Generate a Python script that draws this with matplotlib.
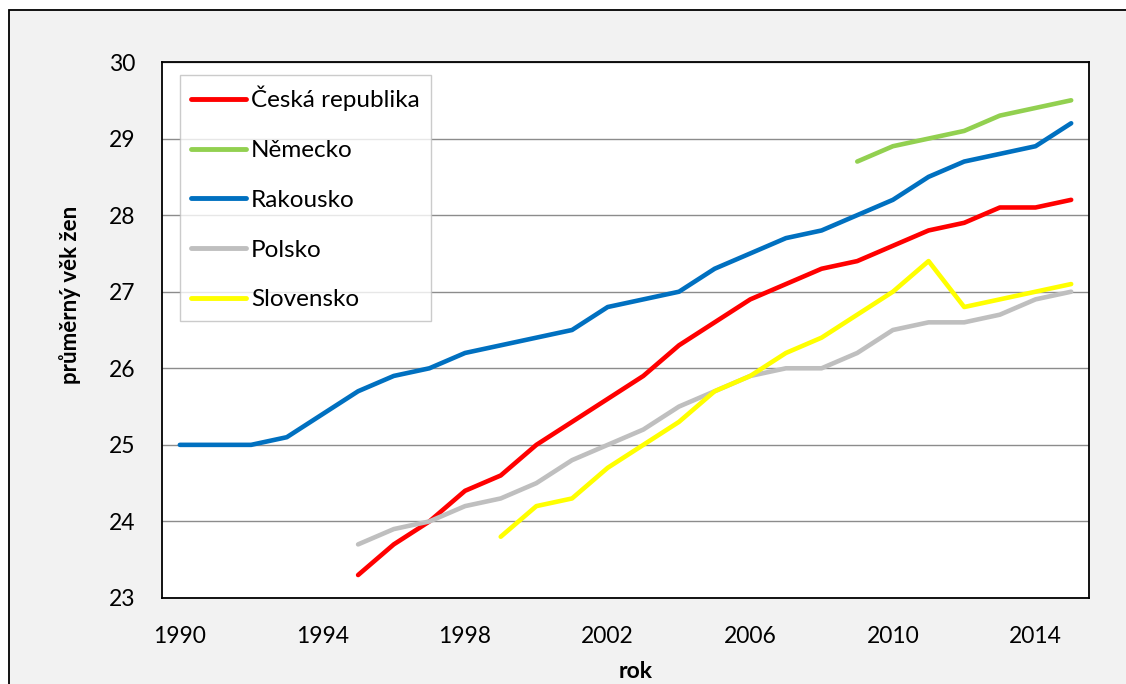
import matplotlib
matplotlib.use("Agg")
import matplotlib.pyplot as plt
from matplotlib.patches import Rectangle
import numpy as np

plt.rcParams['font.family'] = ['Lato', 'DejaVu Sans']

years = list(range(1990, 2016))

cz_years = list(range(1995, 2016))
cz_vals = [23.3, 23.7, 24.0, 24.4, 24.6, 25.0, 25.3, 25.6, 25.9, 26.3, 26.6,
           26.9, 27.1, 27.3, 27.4, 27.6, 27.8, 27.9, 28.1, 28.1, 28.2]

de_years = list(range(2009, 2016))
de_vals = [28.7, 28.9, 29.0, 29.1, 29.3, 29.4, 29.5]

at_years = list(range(1990, 2016))
at_vals = [25.0, 25.0, 25.0, 25.1, 25.4, 25.7, 25.9, 26.0, 26.2, 26.3, 26.4,
           26.5, 26.8, 26.9, 27.0, 27.3, 27.5, 27.7, 27.8, 28.0, 28.2, 28.5,
           28.7, 28.8, 28.9, 29.2]

pl_years = list(range(1995, 2016))
pl_vals = [23.7, 23.9, 24.0, 24.2, 24.3, 24.5, 24.8, 25.0, 25.2, 25.5, 25.7,
           25.9, 26.0, 26.0, 26.2, 26.5, 26.6, 26.6, 26.7, 26.9, 27.0]

sk_years = list(range(1999, 2016))
sk_vals = [23.8, 24.2, 24.3, 24.7, 25.0, 25.3, 25.7, 25.9, 26.2, 26.4, 26.7,
           27.0, 27.4, 26.8, 26.9, 27.0, 27.1]

series = [
    ("Česká republika", cz_years, cz_vals, "#ff0000"),
    ("Německo", de_years, de_vals, "#92d050"),
    ("Rakousko", at_years, at_vals, "#0070c0"),
    ("Polsko", pl_years, pl_vals, "#bfbfbf"),
    ("Slovensko", sk_years, sk_vals, "#ffff00"),
]

xtick_labels = ["1990", "1994", "1998", "2002", "2006", "2010", "2014"]
ytick_vals = [23, 24, 25, 26, 27, 28, 29, 30]

W, H = 1126, 684
fig = plt.figure(figsize=(W / 100, H / 100), dpi=100)
fig.patch.set_facecolor("white")

# outer chart frame (background layer)
bg = fig.add_axes([0, 0, 1, 1], zorder=-10)
bg.set_xlim(0, W)
bg.set_ylim(H, 0)
bg.axis("off")
bg.add_patch(Rectangle((8.5, 9.5), W + 20, H + 20, facecolor="#f2f2f2",
                       edgecolor="black", linewidth=1.3))

ax = fig.add_axes([162 / W, (H - 598) / H, (1089 - 162) / W, (598 - 62) / H])
ax.set_facecolor("white")

for name, xs, ys, col in series:
    ax.plot(xs, ys, color=col, linewidth=3.3, solid_capstyle="round",
            solid_joinstyle="round", label=name, zorder=3)

ax.set_xlim(1989.5, 2015.5)
ax.set_ylim(23, 30)
ax.set_yticks(ytick_vals)
ax.set_yticklabels([str(v) for v in ytick_vals])
ax.set_xticks([int(t) for t in xtick_labels])
ax.set_xticklabels(xtick_labels)
ax.tick_params(axis="both", length=0, labelsize=16.5)
ax.tick_params(axis="y", pad=19)
ax.tick_params(axis="x", pad=20)
ax.grid(axis="y", color="#8c8c8c", linewidth=1.0, zorder=1)
for s in ax.spines.values():
    s.set_color("black")
    s.set_linewidth(1.3)

fig.text(636 / W, (H - 671) / H, "rok", ha="center", va="center",
         fontsize=16.5, fontweight="bold")
fig.text(70 / W, (H - 295) / H, "průměrný věk žen", ha="center", va="center",
         rotation=90, fontsize=16, fontweight="bold")

leg = ax.legend(loc="upper left", bbox_to_anchor=(18 / 927, 1 - 13 / 536),
                frameon=True, fancybox=False, fontsize=17.5, handlelength=2.25,
                handletextpad=0.22, labelspacing=1.18, borderpad=0.45,
                borderaxespad=0)
leg.get_frame().set_edgecolor("#bfbfbf")
leg.get_frame().set_linewidth(1.0)
for line in leg.get_lines():
    line.set_linewidth(3.5)

fig.savefig("out.png", dpi=100)
